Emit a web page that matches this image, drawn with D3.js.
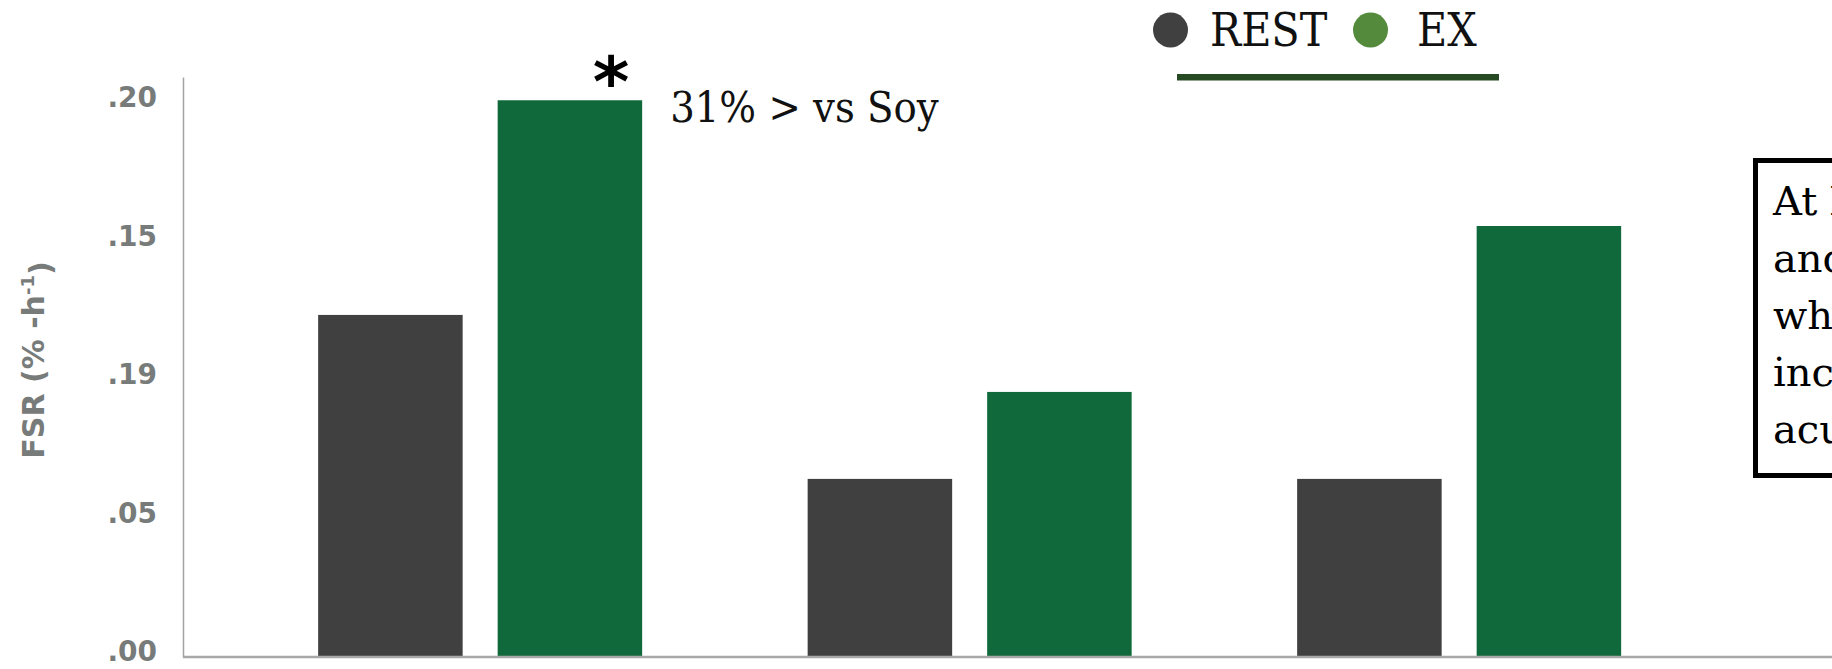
<!DOCTYPE html>
<html>
<head>
<meta charset="utf-8">
<script src="https://cdn.jsdelivr.net/npm/d3@7"></script>
<style>
  html, body { margin: 0; padding: 0; background: #ffffff; }
  svg { display: block; overflow: hidden; }
  .slab { font-family: "DejaVu Serif Condensed", "DejaVu Serif", serif; font-stretch: condensed; }
  .gothic { font-family: "DejaVu Sans", "Noto Sans", sans-serif; font-weight: bold; }
</style>
</head>
<body>
<svg id="chart" width="1832" height="669"></svg>
<script>
// Protein groups (not labelled on the axis) and the two conditions
const groups = ["Whey", "Casein", "Soy"];
const conditions = ["REST", "EX"];

// Fractional synthetic rate, %·h⁻¹
const restValues = [0.1235, 0.0643, 0.0643];
const exValues = [0.2010, 0.0957, 0.1556];

// Y axis ticks and the labels printed beside them
const tickValues = [0, 0.05, 0.10, 0.15, 0.20];
const tickLabels = [".00", ".05", ".19", ".15", ".20"];

// Right-hand note (runs off the edge of the slide)
const noteLines = ["At both rest", "and post-exercise,", "whey protein", "increased", "acute"];

const colors = { REST: "#404040", EX: "#10693a" };
const legendColors = { REST: "#404040", EX: "#538a3b" };

const W = 1832, H = 669;
const svg = d3.select("#chart");

const y = d3.scaleLinear().domain([0, 0.2094]).range([657, 77]);

const x0 = d3.scaleBand().domain(groups).range([235.4, 1703.9]).padding(0);
const x1 = d3.scaleBand().domain(conditions).range([0, x0.bandwidth()])
  .paddingInner(0.195).paddingOuter(0.461);

const rows = groups.map((g, i) => ({ group: g, REST: restValues[i], EX: exValues[i] }));

// Bars
const gBars = svg.append("g");
gBars.selectAll("g.group")
  .data(rows)
  .join("g")
  .attr("class", "group")
  .attr("transform", d => `translate(${x0(d.group)},0)`)
  .selectAll("rect")
  .data(d => conditions.map(c => ({ cond: c, value: d[c] })))
  .join("rect")
  .attr("x", d => x1(d.cond))
  .attr("width", x1.bandwidth())
  .attr("y", d => y(d.value))
  .attr("height", d => y(0) - y(d.value))
  .attr("fill", d => colors[d.cond]);

// Y axis
const yAxis = d3.axisLeft(y)
  .tickValues(tickValues)
  .tickFormat((d, i) => tickLabels[i])
  .tickSize(0)
  .tickPadding(26);

const gY = svg.append("g").attr("transform", "translate(183,0)").call(yAxis);
gY.select(".domain").attr("stroke", "#a3a3a3").attr("stroke-width", 1.5);
gY.selectAll(".tick text")
  .attr("class", "gothic")
  .attr("fill", "#777b79")
  .style("font-size", "28px")
  .attr("dy", "0.14em");

// X baseline
svg.append("line")
  .attr("x1", 183).attr("x2", W)
  .attr("y1", y(0)).attr("y2", y(0))
  .attr("stroke", "#a8a8a8").attr("stroke-width", 2.5);

// Y axis title
const yTitle = svg.append("text")
  .attr("class", "gothic")
  .attr("fill", "#777b79")
  .style("font-size", "30px")
  .attr("text-anchor", "middle")
  .attr("transform", "translate(44,360) rotate(-90)");
yTitle.append("tspan").text("FSR (% -h");
yTitle.append("tspan").attr("dy", "-0.55em").style("font-size", "18px").text("-1");
yTitle.append("tspan").attr("dy", "0.55em").text(")");

// Significance marker and annotation on the whey exercise bar
const exWhey = x0(groups[0]) + x1("EX");
svg.append("text")
  .attr("class", "gothic")
  .attr("x", exWhey + x1.bandwidth() - 31)
  .attr("y", y(exValues[0]) + 6)
  .attr("text-anchor", "middle")
  .style("font-size", "70px")
  .attr("fill", "#000")
  .text("*");

svg.append("text")
  .attr("class", "slab")
  .attr("x", exWhey + x1.bandwidth() + 28)
  .attr("y", 121.5)
  .style("font-size", "43px")
  .style("font-weight", "300")
  .attr("fill", "#111")
  .text("31% > vs Soy");

// Legend
const legend = svg.append("g");
const legendItems = [
  { key: "REST", cx: 1170.5, tx: 1210 },
  { key: "EX", cx: 1370.5, tx: 1417 }
];
legend.selectAll("circle")
  .data(legendItems)
  .join("circle")
  .attr("cx", d => d.cx).attr("cy", 30).attr("r", 17.5)
  .attr("fill", d => legendColors[d.key]);
legend.selectAll("text")
  .data(legendItems)
  .join("text")
  .attr("class", "slab")
  .attr("x", d => d.tx).attr("y", 46)
  .style("font-size", "46px")
  .attr("fill", "#111")
  .text(d => d.key);
legend.append("rect")
  .attr("x", 1177).attr("y", 74).attr("width", 322).attr("height", 6.5)
  .attr("fill", "#264a23");

// Note box
svg.append("rect")
  .attr("x", 1755.5).attr("y", 160.5)
  .attr("width", 400).attr("height", 315)
  .attr("fill", "#fff").attr("stroke", "#000").attr("stroke-width", 5);

svg.append("g")
  .selectAll("text")
  .data(noteLines)
  .join("text")
  .attr("font-family", "'DejaVu Serif', serif")
  .attr("x", 1773)
  .attr("y", (d, i) => 215 + i * 57)
  .style("font-size", "40px")
  .attr("fill", "#000")
  .text(d => d);
</script>
</body>
</html>
